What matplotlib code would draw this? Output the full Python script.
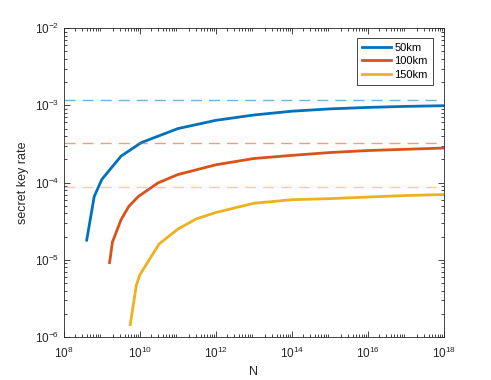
import numpy as np
import matplotlib
matplotlib.use("Agg")
import matplotlib.pyplot as plt
from matplotlib.ticker import LogLocator, NullFormatter

plt.rcParams['font.family'] = ['Liberation Sans', 'DejaVu Sans']

# data
n_50 = [4e8, 6.3e8, 1e9, 3.2e9, 1.1e10, 1e11, 1e12, 1e13, 1e14, 1e15, 1e16, 1e17, 1e18]
skr_50 = [1.8e-5, 6.6e-5, 1.1e-4, 2.2e-4, 3.3e-4, 5.0e-4, 6.4e-4, 7.5e-4, 8.4e-4, 9.0e-4, 9.4e-4, 9.7e-4, 9.9e-4]

n_100 = [1.6e9, 1.9e9, 3.2e9, 5.1e9, 9.1e9, 3e10, 1e11, 1e12, 1e13, 1e14, 1e15, 1e16, 1e17, 1e18]
skr_100 = [9.2e-6, 1.7e-5, 3.3e-5, 4.9e-5, 6.6e-5, 9.9e-5, 1.27e-4, 1.7e-4, 2.05e-4, 2.25e-4, 2.45e-4, 2.6e-4, 2.7e-4, 2.8e-4]

n_150 = [5.6e9, 8.1e9, 1e10, 3.2e10, 1e11, 3.1e11, 1e12, 1e13, 1e14, 1e15, 1e16, 1e17, 1e18]
skr_150 = [1.45e-6, 4.7e-6, 6.4e-6, 1.6e-5, 2.5e-5, 3.4e-5, 4.1e-5, 5.4e-5, 6.0e-5, 6.2e-5, 6.5e-5, 6.8e-5, 7.0e-5]

asymptotes = [1.19e-3, 3.25e-4, 8.7e-5]
labels = ['50km', '100km', '150km']
colors = [(0, 0.447, 0.741), (0.85, 0.325, 0.098), (0.929, 0.694, 0.125)]

fig = plt.figure(figsize=(4.91, 3.8), dpi=100)
ax = fig.add_axes([0.130, 0.113, 0.774, 0.813])

for n, s, c, lab in zip([n_50, n_100, n_150], [skr_50, skr_100, skr_150], colors, labels):
    ax.plot(n, s, color=c, lw=2.0, label=lab)

for a, c in zip(asymptotes, colors):
    ax.axhline(a, color=c, lw=1.0, ls=(0, (8, 5)), alpha=0.55)

ax.set_xscale('log')
ax.set_yscale('log')
ax.set_xlim(1e8, 1e18)
ax.set_ylim(1e-6, 1e-2)
ax.set_xticks([1e8, 1e10, 1e12, 1e14, 1e16, 1e18])
ax.xaxis.set_minor_locator(LogLocator(base=10, subs=np.arange(2, 10), numticks=30))
ax.xaxis.set_minor_formatter(NullFormatter())
ax.yaxis.set_minor_locator(LogLocator(base=10, subs=np.arange(2, 10), numticks=30))
ax.yaxis.set_minor_formatter(NullFormatter())

ax.tick_params(which='both', direction='in', top=True, right=True, colors=(0.15, 0.15, 0.15),
               labelsize=8.5, width=0.6)
ax.tick_params(which='major', length=4)
ax.tick_params(which='minor', length=2)
ax.tick_params(axis='x', pad=6)
for sp in ax.spines.values():
    sp.set_color((0.15, 0.15, 0.15))
    sp.set_linewidth(0.6)

ax.set_xlabel('N', fontsize=9, color=(0.15, 0.15, 0.15))
ax.set_ylabel('secret key rate', fontsize=9, color=(0.15, 0.15, 0.15))

leg = ax.legend(loc='upper right', bbox_to_anchor=(0.971, 0.968), borderaxespad=0, fontsize=8,
                fancybox=False, edgecolor=(0.15, 0.15, 0.15), framealpha=1,
                handlelength=2.6, borderpad=0.45, labelspacing=0.3, handletextpad=0.3)
leg.get_frame().set_linewidth(0.6)

fig.savefig('out.png', dpi=100)
